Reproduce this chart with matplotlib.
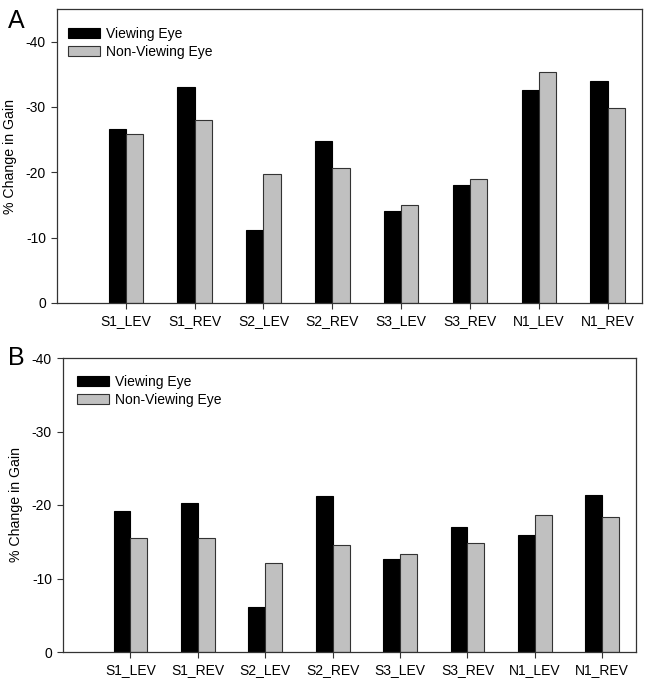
import matplotlib
matplotlib.use("Agg")
import matplotlib.pyplot as plt
import numpy as np

plt.rcParams['font.family'] = ['Liberation Sans', 'DejaVu Sans']

categories = ["S1_LEV", "S1_REV", "S2_LEV", "S2_REV", "S3_LEV", "S3_REV", "N1_LEV", "N1_REV"]

# panel A
viewing_a = [-26.6, -33.1, -11.2, -24.8, -14.1, -18.1, -32.6, -34.0]
nonviewing_a = [-25.8, -28.0, -19.75, -20.6, -15.0, -19.0, -35.3, -29.8]

# panel B
viewing_b = [-19.2, -20.3, -6.1, -21.2, -12.6, -17.0, -15.9, -21.3]
nonviewing_b = [-15.5, -15.5, -12.1, -14.6, -13.3, -14.8, -18.6, -18.3]

yticks = [0, -10, -20, -30, -40]

fig = plt.figure(figsize=(6.58, 6.86), dpi=100)
W, H = 658, 686

def draw_panel(rect, viewing, nonviewing, ymin, letter, letter_y, leg_anchor):
    l, r, t, b = rect
    ax = fig.add_axes([l / W, 1 - b / H, (r - l) / W, (b - t) / H])
    x = np.arange(1, len(categories) + 1)
    w = 0.25
    ax.bar(x - w / 2, viewing, w, color="black", edgecolor="black", linewidth=0.8, label="Viewing Eye")
    ax.bar(x + w / 2, nonviewing, w, color="#c0c0c0", edgecolor="#333333", linewidth=0.8, label="Non-Viewing Eye")
    ax.set_xlim(0, 8.5)
    ax.set_ylim(0, ymin)
    ax.set_xticks(x)
    ax.set_xticklabels(categories, fontsize=10)
    ax.set_yticks(yticks)
    ax.set_yticklabels([str(v) for v in yticks], fontsize=10)
    ax.tick_params(direction="out", length=4, width=0.8, color="#333333", pad=4)
    for s in ax.spines.values():
        s.set_color("#333333")
        s.set_linewidth(0.9)
    ax.set_ylabel("% Change in Gain", fontsize=10.2, labelpad=6)
    ax.legend(loc="upper left", bbox_to_anchor=leg_anchor, frameon=False, fontsize=10,
              handlelength=2.3, handleheight=0.72, labelspacing=0.3, borderaxespad=0.0,
              borderpad=0.0, handletextpad=0.45)
    fig.text(8 / W, 1 - letter_y / H, letter, fontsize=18, va="center", ha="left")
    return ax

draw_panel((57, 642, 9, 303), viewing_a, nonviewing_a, -45, "A", 21, (0.019, 0.94))
draw_panel((63, 636, 358, 652), viewing_b, nonviewing_b, -40, "B", 358, (0.024, 0.942))

fig.savefig("out.png", dpi=100)
